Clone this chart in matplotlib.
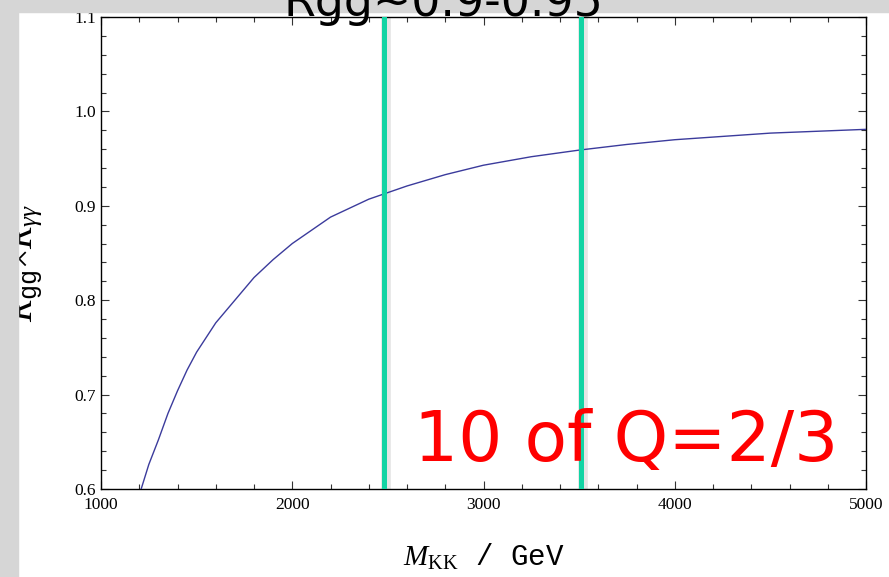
import matplotlib
matplotlib.use("Agg")
import matplotlib.pyplot as plt
from matplotlib.patches import Rectangle
from matplotlib.ticker import MultipleLocator

# curve: M_KK (GeV) vs R_gg x R_yy
m_kk = [1210, 1250, 1300, 1350, 1400, 1450, 1500, 1600, 1700, 1800, 1900, 2000,
        2200, 2400, 2600, 2800, 3000, 3250, 3500, 3750, 4000, 4500, 5000]
ratio = [0.600, 0.626, 0.652, 0.680, 0.704, 0.726, 0.745, 0.776, 0.800, 0.824, 0.843, 0.860,
         0.888, 0.907, 0.921, 0.933, 0.943, 0.952, 0.959, 0.965, 0.970, 0.977, 0.981]

marker_lines = [2480, 3510]

plt.rcParams["font.family"] = ["Liberation Serif", "DejaVu Serif"]
plt.rcParams["mathtext.fontset"] = "custom"
plt.rcParams["mathtext.rm"] = "Liberation Serif"
plt.rcParams["mathtext.it"] = "Liberation Serif:italic"
plt.rcParams["mathtext.tt"] = "Liberation Mono"

fig = plt.figure(figsize=(8.89, 5.77), dpi=100)
fig.patch.set_facecolor("white")

# textured grey border (approximated by flat grey)
fig.patches.append(Rectangle((0, 0), 18 / 889, 1, transform=fig.transFigure,
                             color="#d6d6d6", zorder=0))
fig.patches.append(Rectangle((0, 1 - 12 / 577), 1, 12 / 577, transform=fig.transFigure,
                             color="#d6d6d6", zorder=0))

ax = fig.add_axes([101 / 889, 88 / 577, 765 / 889, 472 / 577])
ax.plot(m_kk, ratio, color="#3b3b9c", lw=1.0, zorder=3)

for x in marker_lines:
    ax.axvline(x + 8, ymin=0.005, ymax=1, color="#999999", lw=7, alpha=0.25, zorder=2)
    ax.axvline(x, ymin=0.005, ymax=1, color="#12d4a4", lw=3.6, zorder=4)

ax.set_xlim(1000, 5000)
ax.set_ylim(0.6, 1.1)
ax.xaxis.set_major_locator(MultipleLocator(1000))
ax.xaxis.set_minor_locator(MultipleLocator(200))
ax.yaxis.set_major_locator(MultipleLocator(0.1))
ax.yaxis.set_minor_locator(MultipleLocator(0.02))
ax.tick_params(which="both", direction="in", top=True, right=True, labelsize=12.5,
               width=0.8, color="#333333")
ax.tick_params(which="major", length=6)
ax.tick_params(which="minor", length=3.5)
ax.tick_params(axis="x", pad=6)
for s in ax.spines.values():
    s.set_linewidth(1.0)

ax.set_xlabel(r"$M_{\rm KK}$ / GeV", fontsize=21, family="Liberation Mono")
ax.xaxis.set_label_coords(0.5, -0.112)
ax.set_ylabel(r"$R_{\mathtt{gg}}$×$R_{\gamma\gamma}$", fontsize=26)
ax.yaxis.set_label_coords(-0.074, 0.48)

ax.text(0.686, 0.06, "10 of Q=2/3", transform=ax.transAxes, fontsize=50,
        color="#ff0000", family="DejaVu Sans", ha="center", va="baseline", zorder=6)

fig.text(283 / 889, 1 - 16 / 577, "Rgg~0.9-0.95", fontsize=33, color="black",
         family="DejaVu Sans", ha="left", va="baseline", zorder=10)

fig.savefig("out.png", dpi=100)
